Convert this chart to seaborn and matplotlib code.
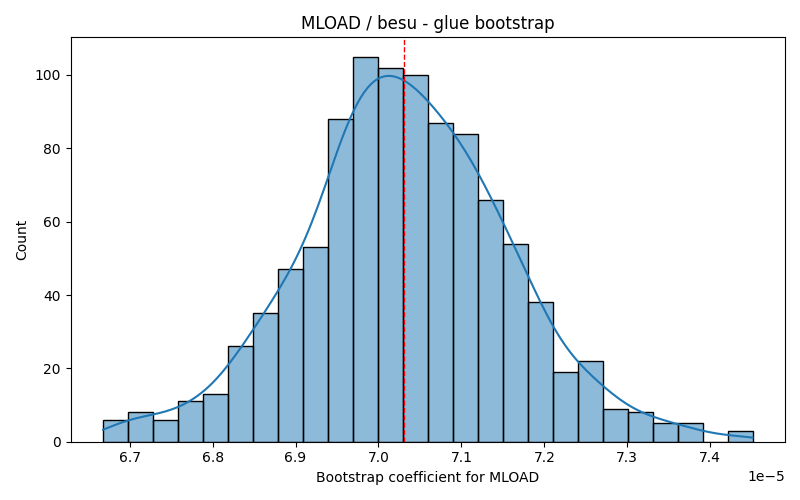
import numpy as np
import pandas as pd
import matplotlib
matplotlib.use('Agg')
import matplotlib.pyplot as plt
import seaborn as sns

# bootstrap histogram (1000 resamples)
bin_lo = 6.668e-5
bin_hi = 7.451e-5
n_bins = 26
counts = [6, 8, 6, 11, 13, 26, 35, 47, 53, 88, 105, 102, 100,
          87, 84, 66, 54, 38, 19, 22, 9, 8, 5, 5, 0, 3]
point_estimate = 7.031e-5

edges = np.linspace(bin_lo, bin_hi, n_bins + 1)
centers = (edges[:-1] + edges[1:]) / 2
data = pd.DataFrame({'coef': centers, 'n': counts})

# weighted centres give a small effective n, so shrink the bandwidth
# back towards what 1000 raw samples would give
n_total = sum(counts)
n_eff = n_total ** 2 / sum(c * c for c in counts)
bw_adj = (n_total / n_eff) ** (-0.2)

fig, ax = plt.subplots(figsize=(8, 5), dpi=100)
sns.histplot(data=data, x='coef', weights='n', bins=n_bins,
             binrange=(bin_lo, bin_hi), kde=True,
             kde_kws={'cut': 3, 'clip': (bin_lo, bin_hi), 'bw_adjust': bw_adj},
             ax=ax)
ax.axvline(point_estimate, color='red', linestyle='--', linewidth=1)

ax.set_title('MLOAD / besu - glue bootstrap')
ax.set_xlabel('Bootstrap coefficient for MLOAD')
ax.set_ylabel('Count')
plt.tight_layout()
plt.savefig('out.png')
